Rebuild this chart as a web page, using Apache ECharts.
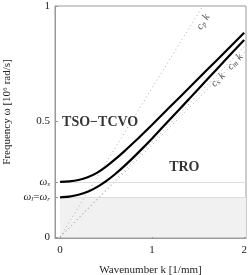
<!DOCTYPE html>
<html><head><meta charset="utf-8">
<script src="https://cdn.jsdelivr.net/npm/echarts@6/dist/echarts.min.js"></script>
<style>html,body{margin:0;padding:0;background:#fff}#c{width:249px;height:275px}</style>
</head><body><div id="c"></div>
<script>
const kUpper = [0,0.1,0.2,0.3,0.4,0.5,0.6,0.7,0.8,0.9,1.0,1.2,1.4,1.6,1.8,2.0];
const wUpper = [0.239,0.241,0.247,0.259,0.278,0.305,0.337,0.372,0.409,0.447,0.486,0.566,0.645,0.725,0.804,0.884];
const kLower = [0,0.1,0.2,0.3,0.4,0.5,0.6,0.7,0.8,0.9,1.0,1.2,1.4,1.6,1.8,2.0];
const wLower = [0.172,0.175,0.183,0.196,0.216,0.242,0.273,0.308,0.346,0.386,0.427,0.512,0.597,0.683,0.768,0.853];
const cpLine = [[0,0],[1.55,1.0]];
const csLine = [[0,0],[2.03,0.81]];
const cmLine = [[0,0],[2.03,0.835]];
const omegaS = 0.239;
const omegaR = 0.172;
const xTicks = [0,1,2];
const yTicks = [0,0.5,1];

const serif = '"Liberation Serif","DejaVu Serif",serif';
const chart = echarts.init(document.getElementById('c'));
const zip = (a,b)=>a.map((v,i)=>[v,b[i]]);
const dotted = {type:'line', symbol:'none', silent:true, clip:true,
  lineStyle:{color:'#aaa', width:1, type:[1,3]}};
function textPt(coord, rich, rotate, align){
  return {type:'scatter', symbolSize:0, silent:true, data:[coord], z:10,
    label:{show:true, position:'inside', formatter:rich.text, rotate:rotate||0, align:align||'center', verticalAlign:'middle',
      rich:rich.styles, fontFamily:serif, color:'#111'}};
}
const subRich = {
  i:{fontFamily:serif, fontStyle:'italic', fontSize:10.5, color:'#222'},
  s:{fontFamily:serif, fontStyle:'italic', fontSize:7.5, color:'#222', verticalAlign:'bottom', padding:[3,0,0,0]}
};
chart.setOption({
  animation:false,
  grid:{left:55, right:3, top:6, bottom:37, containLabel:false, outerBoundsMode:'none', show:true, borderColor:'#999', borderWidth:1},
  xAxis:{type:'value', min:-0.055, max:2.02,
    name:'Wavenumber k [1/mm]', nameLocation:'middle', nameGap:27,
    nameTextStyle:{fontFamily:serif, fontSize:11, color:'#222'},
    axisLine:{show:true, onZero:false, lineStyle:{color:'#999'}},
    axisTick:{show:true, inside:true, length:3, customValues:xTicks, lineStyle:{color:'#999'}},
    axisLabel:{customValues:xTicks, fontFamily:serif, fontSize:11, color:'#222', margin:7},
    splitLine:{show:false}},
  yAxis:{type:'value', min:-0.004, max:1,
    name:'Frequency ω [10⁶ rad/s]', nameLocation:'middle', nameGap:32,
    nameTextStyle:{fontFamily:serif, fontSize:11, color:'#222', padding:[0,0,0,20]},
    axisLine:{show:true, onZero:false, lineStyle:{color:'#999'}},
    axisTick:{show:true, inside:true, length:3, customValues:[0,omegaR,omegaS,0.5,1], lineStyle:{color:'#999'}},
    axisLabel:{customValues:[0,omegaR,omegaS,0.5,1], fontFamily:serif, fontSize:11, color:'#222', margin:5,
      formatter:function(v){
        if (Math.abs(v-omegaS)<1e-6) return '{i|ω}{s|s}';
        if (Math.abs(v-omegaR)<1e-6) return '{i|ω}{s|l}{n|=}{i|ω}{s|r}';
        return String(v);
      },
      rich:{i:{fontFamily:serif, fontStyle:'italic', fontSize:11, color:'#222'},
            s:{fontFamily:serif, fontStyle:'italic', fontSize:7, color:'#222', padding:[4,0,0,0]},
            n:{fontFamily:serif, fontSize:11, color:'#222'}}},
    splitLine:{show:false}},
  series:[
    {type:'line', symbol:'none', silent:true, data:[[0,0],[2.02,0]], lineStyle:{width:0},
      markArea:{silent:true, itemStyle:{color:'#f1f1f1'}, data:[[{coord:[0,0]},{coord:[2.02,omegaR]}]]},
      markLine:{silent:true, symbol:'none', label:{show:false}, lineStyle:{color:'#ddd', width:1, type:'solid'},
        data:[[{coord:[0,omegaS]},{coord:[2.02,omegaS]}],[{coord:[0,omegaR]},{coord:[2.02,omegaR]}]]}},
    Object.assign({}, dotted, {data:cpLine}),
    Object.assign({}, dotted, {data:csLine}),
    Object.assign({}, dotted, {data:cmLine}),
    {type:'line', symbol:'none', smooth:0.3, silent:true, data:zip(kUpper,wUpper), lineStyle:{color:'#000', width:2.2}, z:5},
    {type:'line', symbol:'none', smooth:0.3, silent:true, data:zip(kLower,wLower), lineStyle:{color:'#000', width:2.2}, z:5},
    textPt([0.022,0.498], {text:'{b|TSO−TCVO}', styles:{b:{fontFamily:serif, fontWeight:'bold', fontSize:14, color:'#000'}}}, 0, 'left'),
    textPt([1.35,0.30], {text:'{b|TRO}', styles:{b:{fontFamily:serif, fontWeight:'bold', fontSize:14, color:'#000'}}}),
    textPt([1.554,0.931], {text:'{i|c}{s|p} {i|k}', styles:subRich}, 58),
    textPt([1.717,0.68], {text:'{i|c}{s|s} {i|k}', styles:subRich}, 46),
    textPt([1.902,0.758], {text:'{i|c}{s|m} {i|k}', styles:subRich}, 46)
  ]
});
</script></body></html>
